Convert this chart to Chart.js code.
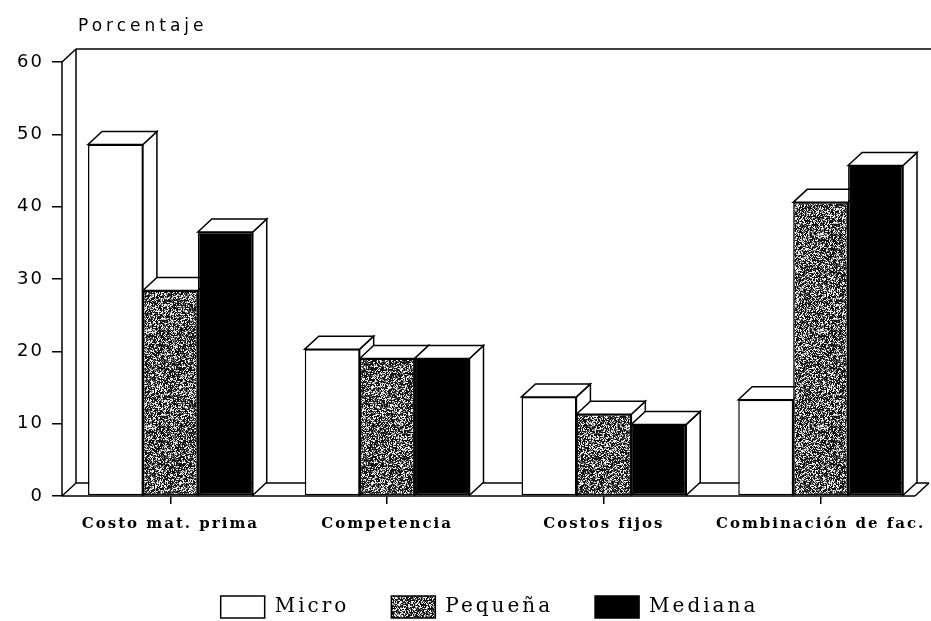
<!DOCTYPE html>
<html>
<head>
<meta charset="utf-8">
<script src="https://cdn.jsdelivr.net/npm/chart.js@4/dist/chart.umd.min.js"></script>
<style>
  html, body { margin: 0; padding: 0; background: #fff; }
  #wrap { width: 931px; height: 621px; }
</style>
</head>
<body>
<div id="wrap"><canvas id="chart"></canvas></div>
<script>
// Porcentaje por tipo de empresa — barras 3D

const CATEGORIES = ['Costo mat. prima', 'Competencia', 'Costos fijos', 'Combinación de fac.'];
const SERIES_NAMES = ['Micro', 'Pequeña', 'Mediana'];
const MICRO = [48.6, 20.3, 13.7, 13.3];
const PEQUENA = [28.4, 19.0, 11.3, 40.6];
const MEDIANA = [36.5, 19.0, 9.9, 45.7];
const Y_TICKS = [0, 10, 20, 30, 40, 50, 60];
const Y_TITLE = 'Porcentaje';

// 3D depth offset
const DX = 14;
const DY = 13;
const SPACING = '2px';

// ── Helpers ────────────────────────────────────────────────

// grey speckle texture (fixed seed so it's stable between runs)
function speckle() {
  const size = 96;
  const c = document.createElement('canvas');
  c.width = c.height = size;
  const g = c.getContext('2d');
  const img = g.createImageData(size, size);
  let s = 987654;
  for (let i = 0; i < size * size; i++) {
    s = (s * 1103515245 + 12345) & 0x7fffffff;
    const r = (s >> 10) % 100;
    const v = r < 52 ? 20 : r < 70 ? 115 : 235;
    img.data[i * 4] = v;
    img.data[i * 4 + 1] = v;
    img.data[i * 4 + 2] = v;
    img.data[i * 4 + 3] = 255;
  }
  g.putImageData(img, 0, 0);
  return g.createPattern(c, 'repeat');
}

const ctx0 = document.getElementById('chart').getContext('2d');
const FILLS = ['#ffffff', speckle(), '#000000'];

function poly(ctx, pts) {
  ctx.beginPath();
  ctx.moveTo(pts[0][0], pts[0][1]);
  for (let i = 1; i < pts.length; i++) ctx.lineTo(pts[i][0], pts[i][1]);
  ctx.closePath();
  ctx.fill();
  ctx.stroke();
}

function line(ctx, x1, y1, x2, y2) {
  ctx.beginPath();
  ctx.moveTo(x1, y1);
  ctx.lineTo(x2, y2);
  ctx.stroke();
}

// ── Plugins ───────────────────────────────────────────────

const spacingPlugin = {
  id: 'spacing',
  beforeLayout(chart) { chart.ctx.letterSpacing = SPACING; },
  beforeDraw(chart) { chart.ctx.letterSpacing = SPACING; },
};

// walls, floor, and the side/top faces of each bar
const depthPlugin = {
  id: 'depth',
  beforeDatasetsDraw(chart) {
    const { ctx, chartArea: a } = chart;
    ctx.save();
    ctx.strokeStyle = '#000';
    ctx.lineWidth = 1.5;
    // back wall
    line(ctx, a.left, a.top, a.left + DX, a.top - DY);
    line(ctx, a.left + DX, a.top - DY, a.left + DX, a.bottom - DY);
    line(ctx, a.left + DX, a.top - DY, chart.width, a.top - DY);
    line(ctx, a.left, a.top, a.left, a.bottom);
    // floor
    line(ctx, a.left, a.bottom, a.right - DX, a.bottom);
    line(ctx, a.left, a.bottom, a.left + DX, a.bottom - DY);
    line(ctx, a.left + DX, a.bottom - DY, a.right, a.bottom - DY);
    line(ctx, a.right - DX, a.bottom, a.right, a.bottom - DY);

    ctx.fillStyle = '#fff';
    chart.data.datasets.forEach((ds, i) => {
      chart.getDatasetMeta(i).data.forEach(bar => {
        const l = bar.x - bar.width / 2;
        const r = bar.x + bar.width / 2;
        poly(ctx, [[r, bar.y], [r + DX, bar.y - DY], [r + DX, bar.base - DY], [r, bar.base]]);
        poly(ctx, [[l, bar.y], [l + DX, bar.y - DY], [r + DX, bar.y - DY], [r, bar.y]]);
      });
    });
    ctx.restore();
  },
  afterDraw(chart) {
    const { ctx, chartArea: a } = chart;
    ctx.save();
    // axis title, top left
    ctx.letterSpacing = '4px';
    ctx.font = '17px "DejaVu Sans"';
    ctx.fillStyle = '#000';
    ctx.textBaseline = 'middle';
    ctx.textAlign = 'left';
    ctx.fillText(Y_TITLE, 78, 27);

    // legend along the bottom, centred under the plot area
    ctx.letterSpacing = '3px';
    ctx.font = '20px "DejaVu Serif"';
    const boxW = 44, boxH = 22, gap = 10, itemGap = 42, cy = 607;
    const widths = SERIES_NAMES.map(n => boxW + gap + ctx.measureText(n).width);
    const total = widths.reduce((s, w) => s + w, 0) + itemGap * (widths.length - 1);
    let x = (a.left + a.right) / 2 - 6 - total / 2;
    ctx.strokeStyle = '#000';
    ctx.lineWidth = 1.5;
    SERIES_NAMES.forEach((name, i) => {
      ctx.fillStyle = FILLS[i];
      ctx.beginPath();
      ctx.rect(x, cy - boxH / 2, boxW, boxH);
      ctx.fill();
      ctx.stroke();
      ctx.fillStyle = '#000';
      ctx.fillText(name, x + boxW + gap, cy);
      x += widths[i] + itemGap;
    });
    ctx.restore();
  },
};

// ── Chart ─────────────────────────────────────────────────

new Chart(ctx0, {
  type: 'bar',
  data: {
    labels: CATEGORIES,
    datasets: [MICRO, PEQUENA, MEDIANA].map((vals, i) => ({
      label: SERIES_NAMES[i],
      data: vals,
      backgroundColor: FILLS[i],
      borderColor: '#000',
      borderWidth: 1.5,
      borderSkipped: false,
      categoryPercentage: 0.76,
      barPercentage: 1,
    })),
  },
  options: {
    responsive: true,
    maintainAspectRatio: false,
    animation: false,
    layout: { padding: { top: 62, right: 2, bottom: 80, left: 0 } },
    plugins: {
      legend: { display: false },
      tooltip: { enabled: false },
    },
    scales: {
      x: {
        grid: { offset: false, drawOnChartArea: false, drawTicks: true, tickLength: 8, color: '#000', lineWidth: 1.5 },
        border: { display: false },
        ticks: { color: '#000', font: { family: 'DejaVu Serif', size: 15, weight: 'bold' }, padding: 11, maxRotation: 0 },
        afterFit: s => { s.height = 45; s.paddingLeft = 0; s.paddingRight = 0; },
      },
      y: {
        min: 0,
        max: 60,
        afterBuildTicks: s => { s.ticks = Y_TICKS.map(v => ({ value: v })); },
        grid: { drawOnChartArea: false, drawTicks: true, tickLength: 10, color: '#000', lineWidth: 1.5 },
        border: { display: false },
        ticks: { color: '#000', font: { family: 'DejaVu Sans', size: 18 }, padding: 8 },
        afterFit: s => { s.width = 62; },
      },
    },
  },
  plugins: [spacingPlugin, depthPlugin],
});
</script>
</body>
</html>
